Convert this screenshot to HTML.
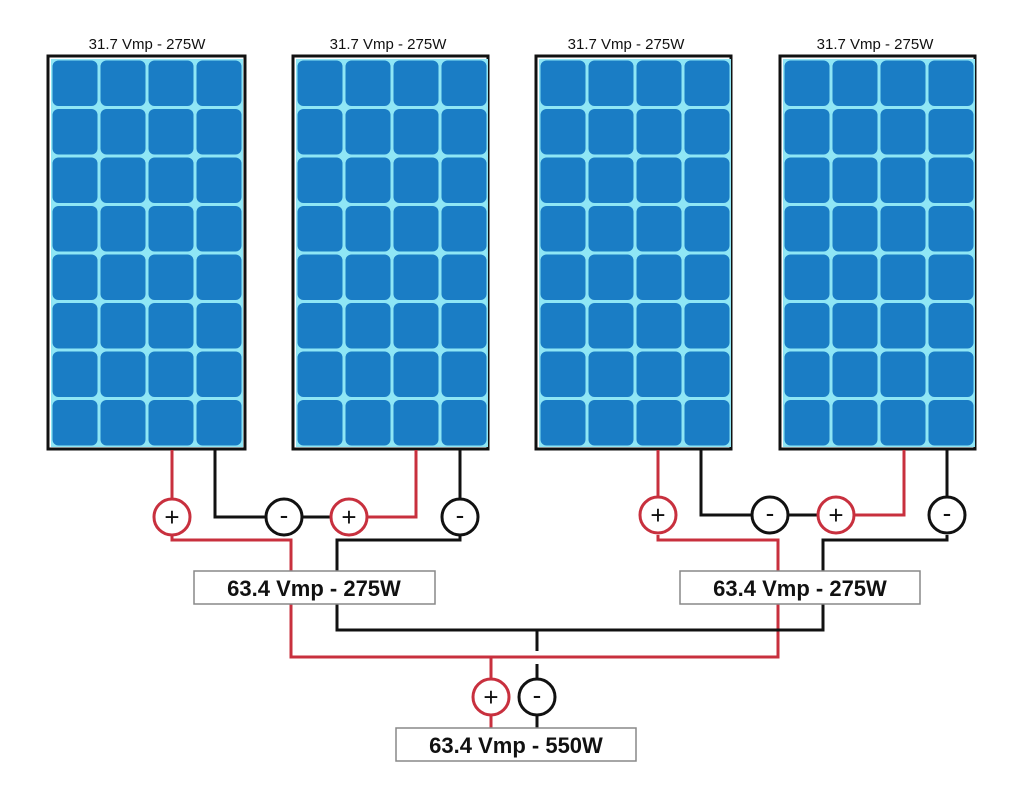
<!DOCTYPE html>
<html><head><meta charset="utf-8"><style>
html,body{margin:0;padding:0;background:#fff;}
svg{display:block;}
text{font-family:"Liberation Sans",sans-serif;}
</style></head><body>
<svg width="1024" height="798" viewBox="0 0 1024 798" xmlns="http://www.w3.org/2000/svg">
<defs>
<pattern id="cells" x="0" y="0" width="48" height="48.5" patternUnits="userSpaceOnUse">
<rect width="48" height="48.5" fill="#8fe6f5"/>
<rect x="1.5" y="1.5" width="45" height="45.5" rx="6" fill="#1a7dc5"/>
</pattern>
</defs>
<rect width="1024" height="798" fill="#fff"/>
<g font-size="15" text-anchor="middle" fill="#111">
<text x="147" y="49">31.7 Vmp - 275W</text>
<text x="388" y="49">31.7 Vmp - 275W</text>
<text x="626" y="49">31.7 Vmp - 275W</text>
<text x="875" y="49">31.7 Vmp - 275W</text>
</g>
<g>
<rect x="48" y="56" width="197" height="393" fill="#fff" stroke="#111" stroke-width="3"/>
<g transform="translate(51,59)"><rect width="192" height="388" fill="url(#cells)"/></g>
<rect x="293" y="56" width="195" height="393" fill="#fff" stroke="#111" stroke-width="3"/>
<g transform="translate(296,59)"><rect width="192" height="388" fill="url(#cells)"/></g>
<rect x="536" y="56" width="195" height="393" fill="#fff" stroke="#111" stroke-width="3"/>
<g transform="translate(539,59)"><rect width="192" height="388" fill="url(#cells)"/></g>
<rect x="780" y="56" width="195" height="393" fill="#fff" stroke="#111" stroke-width="3"/>
<g transform="translate(783,59)"><rect width="192" height="388" fill="url(#cells)"/></g>
</g>
<g fill="none" stroke-width="3">
<path d="M172 450 V500" stroke="#c8303e"/>
<path d="M215 450 V517 H266" stroke="#111"/>
<path d="M302 517 H331" stroke="#111"/>
<path d="M367 517 H416 V450" stroke="#c8303e"/>
<path d="M460 450 V499" stroke="#111"/>
<path d="M172 535 V540 H291 V657 H778 V540 H658 V535" stroke="#c8303e"/>
<path d="M460 535 V540 H337 V630 H823 V540 H947 V535" stroke="#111"/>
<path d="M658 450 V497" stroke="#c8303e"/>
<path d="M701 450 V515 H752" stroke="#111"/>
<path d="M788 515 H818" stroke="#111"/>
<path d="M854 515 H904 V450" stroke="#c8303e"/>
<path d="M947 450 V497" stroke="#111"/>
<path d="M537 630 V651 M537 664 V679 M537 715 V728" stroke="#111"/>
<path d="M491 657 V679 M491 715 V728" stroke="#c8303e"/>
</g>
<g stroke-width="3" fill="#fff">
<circle cx="172" cy="517" r="18" stroke="#c8303e"/>
<circle cx="284" cy="517" r="18" stroke="#111"/>
<circle cx="349" cy="517" r="18" stroke="#c8303e"/>
<circle cx="460" cy="517" r="18" stroke="#111"/>
<circle cx="658" cy="515" r="18" stroke="#c8303e"/>
<circle cx="770" cy="515" r="18" stroke="#111"/>
<circle cx="836" cy="515" r="18" stroke="#c8303e"/>
<circle cx="947" cy="515" r="18" stroke="#111"/>
<circle cx="491" cy="697" r="18" stroke="#c8303e"/>
<circle cx="537" cy="697" r="18" stroke="#111"/>
</g>
<g font-size="26" text-anchor="middle" fill="#111">
<text x="172" y="526">+</text><text x="284" y="524">-</text>
<text x="349" y="526">+</text><text x="460" y="524">-</text>
<text x="658" y="524">+</text><text x="770" y="522">-</text>
<text x="836" y="524">+</text><text x="947" y="522">-</text>
<text x="491" y="706">+</text><text x="537" y="704">-</text>
</g>
<g stroke="#888" stroke-width="1.5" fill="#fff">
<rect x="194" y="571" width="241" height="33"/>
<rect x="680" y="571" width="240" height="33"/>
<rect x="396" y="728" width="240" height="33"/>
</g>
<g font-size="22" font-weight="bold" text-anchor="middle" fill="#111">
<text x="314" y="596">63.4 Vmp - 275W</text>
<text x="800" y="596">63.4 Vmp - 275W</text>
<text x="516" y="753">63.4 Vmp - 550W</text>
</g>
</svg>
</body></html>
